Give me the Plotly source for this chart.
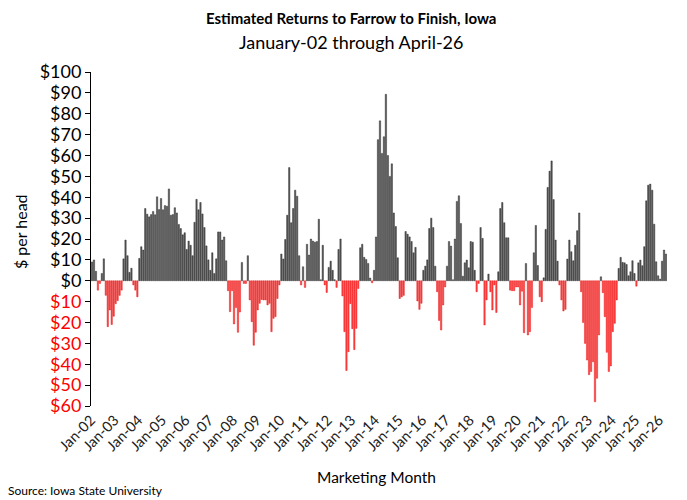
import plotly.graph_objects as go

# Monthly estimated returns ($ per head), Jan-02 .. Apr-26
y2002 = [9, 10, 4.5, -4.5, -1.3, 3.5, 10.5, -7, -22, -14, -21, -17]
y2003 = [-11, -9.5, -7, -4.5, 10.5, 19.5, 12, 4, 6, -2, -4.5, -7.7]
y2004 = [10.7, 16.3, 14.7, 34.6, 31.9, 30.6, 31.7, 33.2, 31.6, 40.2, 34.1, 39.4]
y2005 = [34, 36, 35.7, 44, 31.4, 31.7, 35, 32.5, 27, 25, 22, 23]
y2006 = [15, 19, 17, 12, 28, 39, 34, 37.5, 32, 25.5, 16.7, 10]
y2007 = [5, 13.4, 3.5, 10.5, 23.4, 23.4, 19.5, 21, 9.6, -4.8, -14.8, -4.8]
y2008 = [-20.7, -12.8, -24.7, -15, 8.8, -1.3, -1.3, 12, -9.2, -19.6, -30.9, -24.7]
y2009 = [-14, -10.8, -9, -9.2, -9.2, -11.6, -10.8, -24.4, -18, -17.2, -8.5, -2]
y2010 = [12.8, 10.4, 19.8, 31.4, 54.2, 27.8, 34.6, 43.4, 40.5, 12, -2, 6.7]
y2011 = [-3.2, 17.5, 12.3, 20, 19, 18.5, 18.8, 29.5, 0.5, 17, -2, -5.6]
y2012 = [6.4, 9.4, 5, 0.5, -3.2, 15, 20, -7.3, -24.4, -43, -34, -11]
y2013 = [-23, -33, -22.8, -3.7, 15.8, 17.5, 11.2, 10.2, 8.3, 1.3, -1, 5]
y2014 = [21, 67.6, 76.6, 61, 69, 89.3, 60, 50, 56, 32.5, 26, 11]
y2015 = [-8.5, -7.7, -7, 23.6, 22.3, 21, 18.8, 13.4, 16, -9.7, -13.7, -10.8]
y2016 = [5, 7, 10, 25, 30, 25.5, 7, -5.3, -19, -23.6, -11.6, -3]
y2017 = [7, 18.8, 16.6, 0.5, 20, 38, 40.7, 27.4, 2.2, 8.6, 9.9, 6.2]
y2018 = [18.8, 18.5, 5, -5.3, -1.3, 25.5, 20.3, -21.2, -9.2, 3.2, -5.3, -14]
y2019 = [-2, -15.2, 4.3, 34.6, 37.5, 27.8, 20.6, 20.6, -4.5, -4.8, -4.8, -3]
y2020 = [-3, -11.6, -5, -24.9, 8.3, -26, -24.4, -12.8, 13.4, 26.5, 7.3, -7.7]
y2021 = [-10, 1.4, 24.6, 44.7, 52.5, 57.4, 38.9, 19.5, 9.4, -2, -9.2, -14.5]
y2022 = [-13.7, 10.4, 19.5, 13.9, 9.6, 17, 24, 32.5, -5.3, -20, -30, -38]
y2023 = [-45, -43.5, -38.8, -58, -46.7, -26, 1.9, -5.7, -17.2, -34.3, -43.5, -40.8]
y2024 = [-24.4, -20.4, -9.2, 5.9, 11.2, 8.8, 8.6, 7.8, 2.4, 4.3, 9.6, 3.5]
y2025 = [-2.6, 8.6, 9.9, 7.2, 16.3, 38.3, 45.8, 46.3, 43.4, 27.1, 9.1, 2.4]
y2026 = [0.8, 9.4, 14.7, 12.8]

years = list(range(2002, 2027))
yearly = [y2002, y2003, y2004, y2005, y2006, y2007, y2008, y2009, y2010, y2011,
          y2012, y2013, y2014, y2015, y2016, y2017, y2018, y2019, y2020, y2021,
          y2022, y2023, y2024, y2025, y2026]
returns = [v for yr in yearly for v in yr]
idx = list(range(len(returns)))

ytick_vals = list(range(-60, 101, 10))

POS = "#5a5a5a"
POS_EDGE = "#1e1e1e"
NEG = "#ff4a4a"
NEG_EDGE = "#e00000"
FONT = "Lato, 'Open Sans', sans-serif"

colors = [POS if v >= 0 else NEG for v in returns]
edges = [POS_EDGE if v >= 0 else NEG_EDGE for v in returns]

fig = go.Figure()
fig.add_trace(go.Bar(x=idx, y=returns,
                     marker=dict(color=colors, line=dict(width=0.4, color=edges)),
                     showlegend=False))

# year boundaries
year_bounds = [12 * i - 0.5 for i in range(len(years))]
year_text = ["Jan-%02d" % (y % 100) for y in years]

def ylab(v):
    s = "$%d" % abs(v)
    if v < 0:
        return "<span style='color:#ff0000'>%s</span>" % s
    return s

fig.update_layout(
    width=687, height=500,
    margin=dict(l=91, r=20, t=72, b=94),
    paper_bgcolor="white", plot_bgcolor="white",
    bargap=0.3,
    font=dict(family=FONT, color="black"),
    xaxis=dict(range=[-0.5, len(returns) - 0.5], tickmode="array", tickvals=year_bounds,
               ticktext=year_text, tickangle=-45, ticks="", showline=False,
               showgrid=False, zeroline=False, tickfont=dict(size=14.5, color="#222"),
               ticklabelstandoff=2),
    xaxis2=dict(range=[-0.5, len(returns) - 0.5], overlaying="x", anchor="free",
                position=60 / 160, side="bottom", tickmode="array", tickvals=year_bounds,
                showticklabels=False, ticks="outside", ticklen=4, tickcolor="black",
                showline=True, linecolor="black", linewidth=1, showgrid=False, zeroline=False),
    yaxis=dict(range=[-60, 100], tickmode="array", tickvals=ytick_vals,
               ticktext=[ylab(v) for v in ytick_vals], showline=True, linecolor="black",
               linewidth=1, ticks="outside", ticklen=5, tickcolor="black",
               showgrid=False, zeroline=False, tickfont=dict(size=18, color="black")),
)

fig.add_annotation(text="<b>Estimated Returns to Farrow to Finish, Iowa</b>", xref="paper",
                   yref="paper", x=(351 - 91) / 577, y=(406 - 18) / 334, showarrow=False,
                   font=dict(size=15, family=FONT), xanchor="center", yanchor="middle")
fig.add_annotation(text="January-02 through April-26", xref="paper", yref="paper",
                   x=(351 - 91) / 577, y=(406 - 42) / 334, showarrow=False,
                   font=dict(size=18, family=FONT), xanchor="center", yanchor="middle")
fig.add_annotation(text="$ per head", xref="paper", yref="paper", x=(20 - 91) / 577,
                   y=(406 - 232) / 334, showarrow=False, textangle=-90,
                   font=dict(size=16, family=FONT), xanchor="center", yanchor="middle")
fig.add_annotation(text="Marketing Month", xref="paper", yref="paper", x=(377 - 91) / 577,
                   y=(406 - 477) / 334, showarrow=False,
                   font=dict(size=15.5, family=FONT), xanchor="center", yanchor="middle")
fig.add_annotation(text="Source: Iowa State University", xref="paper", yref="paper",
                   x=(6 - 91) / 577, y=(406 - 490) / 334, showarrow=False,
                   font=dict(size=12, family=FONT), xanchor="left", yanchor="middle")

fig.write_html("out.html")
